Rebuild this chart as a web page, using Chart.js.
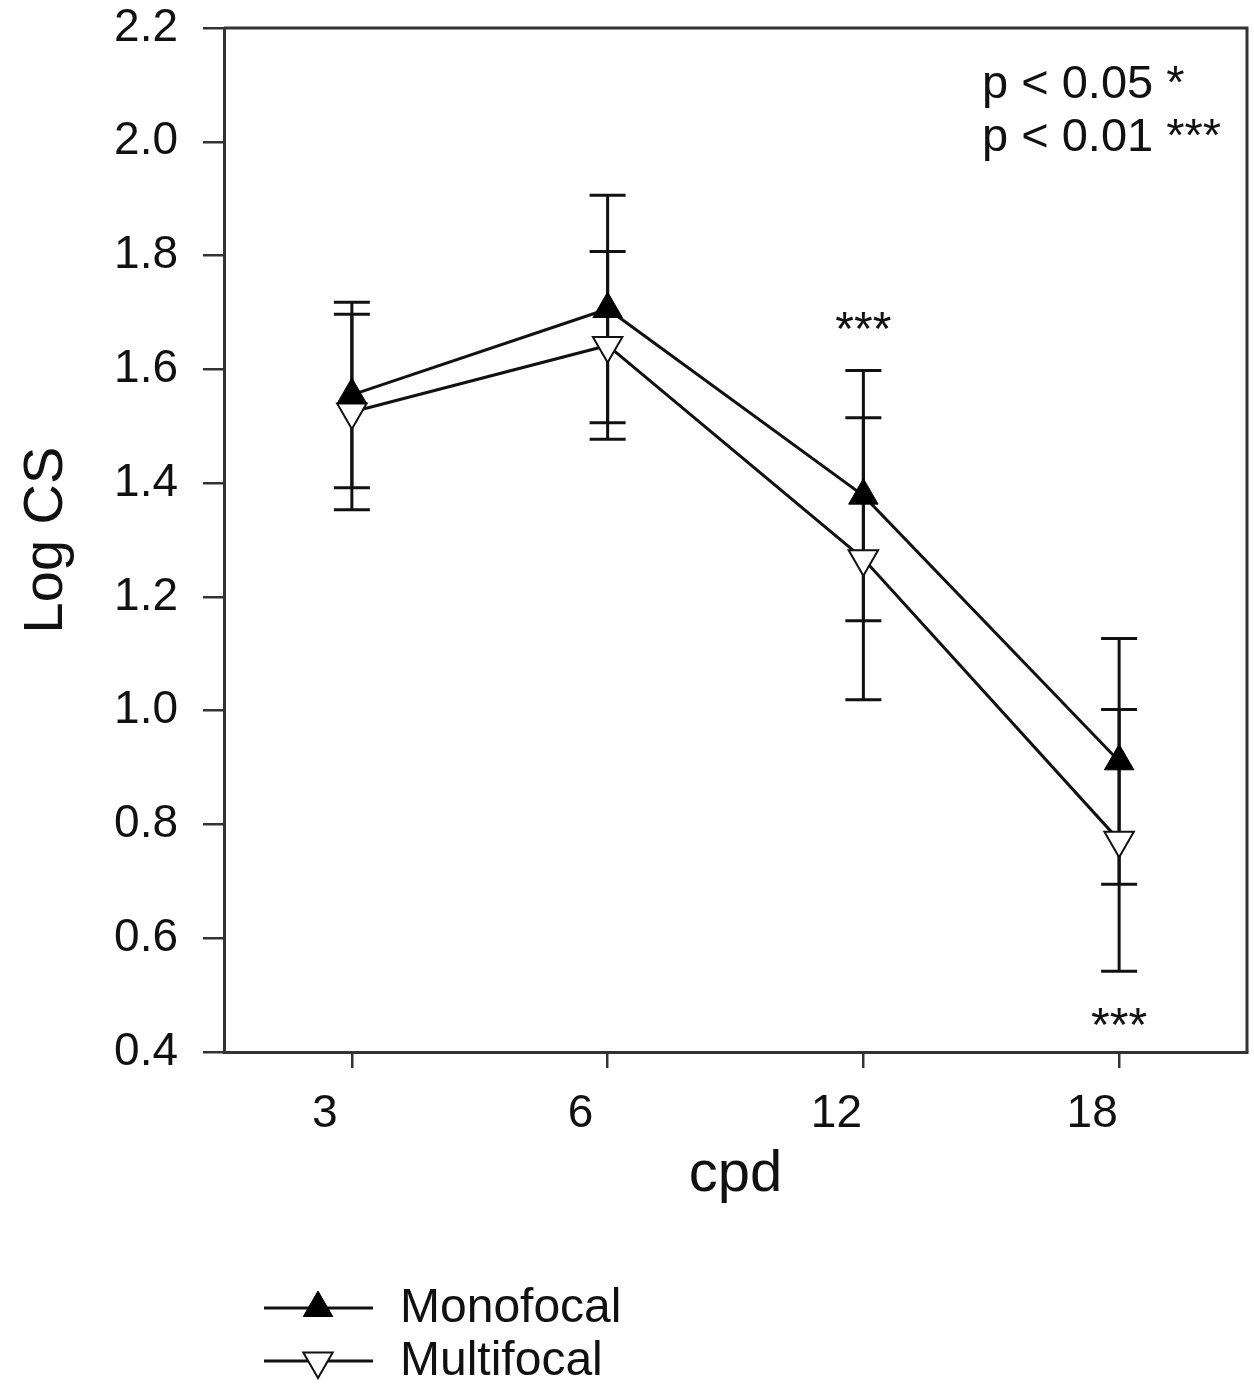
<!DOCTYPE html>
<html><head><meta charset="utf-8">
<script src="https://cdn.jsdelivr.net/npm/chart.js@4"></script>
<style>html,body{margin:0;padding:0;background:#fff}#wrap{width:1254px;height:1389px}</style>
</head><body><div id="wrap"><canvas id="c" width="1254" height="1389"></canvas></div>
<script>
const categories = ['3', '6', '12', '18'];
const monofocal = [1.555, 1.706, 1.378, 0.911];
const monofocalErr = [0.163, 0.200, 0.220, 0.216];
const multifocal = [1.525, 1.642, 1.267, 0.772];
const multifocalErr = [0.172, 0.165, 0.248, 0.230];
const yTickValues = [0.4, 0.6, 0.8, 1.0, 1.2, 1.4, 1.6, 1.8, 2.0, 2.2];
const sigCategories = ['12', '18'];
const sigValues = [1.69, 0.467];
const sigTexts = ['***', '***'];
const pNotes = ['p < 0.05 *', 'p < 0.01 ***'];
const seriesNames = ['Monofocal', 'Multifocal'];

const FONT = '"Liberation Sans", Arial, sans-serif';
const INK = '#111';

const errorBars = {
  id: 'errorBars',
  beforeDatasetsDraw(chart) {
    const {ctx, scales: {x, y}} = chart;
    const errs = [monofocalErr, multifocalErr];
    ctx.save();
    ctx.strokeStyle = INK;
    ctx.lineWidth = 3;
    chart.data.datasets.forEach((ds, di) => {
      ds.data.forEach((v, i) => {
        const px = x.getPixelForValue(i);
        const t = y.getPixelForValue(v + errs[di][i]);
        const b = y.getPixelForValue(v - errs[di][i]);
        ctx.beginPath();
        ctx.moveTo(px, t); ctx.lineTo(px, b);
        ctx.moveTo(px - 18, t); ctx.lineTo(px + 18, t);
        ctx.moveTo(px - 18, b); ctx.lineTo(px + 18, b);
        ctx.stroke();
      });
    });
    ctx.restore();
  }
};

const extras = {
  id: 'extras',
  afterDraw(chart) {
    const {ctx, chartArea: a, scales: {x, y}} = chart;
    ctx.save();
    ctx.strokeStyle = '#333';
    ctx.lineWidth = 3;
    ctx.beginPath();
    ctx.moveTo(a.left, a.top); ctx.lineTo(a.right, a.top); ctx.lineTo(a.right, a.bottom);
    ctx.stroke();
    ctx.fillStyle = INK;
    ctx.font = '48px ' + FONT;
    ctx.textAlign = 'center';
    ctx.textBaseline = 'alphabetic';
    sigCategories.forEach((c, k) => {
      const px = x.getPixelForValue(categories.indexOf(c));
      const py = y.getPixelForValue(sigValues[k]);
      ctx.fillText(sigTexts[k], px, py + 27);
    });
    ctx.font = '47px ' + FONT;
    ctx.textAlign = 'left';
    ctx.textBaseline = 'middle';
    pNotes.forEach((t, k) => ctx.fillText(t, a.left + 758, a.top + 57 + k * 53));
    const rows = [1308, 1361];
    chart.data.datasets.forEach((ds, k) => {
      const ly = rows[k];
      ctx.strokeStyle = INK;
      ctx.lineWidth = 3;
      ctx.beginPath(); ctx.moveTo(264, ly); ctx.lineTo(373, ly); ctx.stroke();
      ctx.fillStyle = ds.pointBackgroundColor;
      ctx.strokeStyle = ds.pointBorderColor;
      ctx.lineWidth = ds.pointBorderWidth;
      Chart.helpers.drawPoint(ctx, {pointStyle: 'triangle', radius: ds.pointRadius, rotation: ds.pointRotation, borderWidth: ds.pointBorderWidth}, 318, ly);
      ctx.fillStyle = INK;
      ctx.font = '48px ' + FONT;
      ctx.textAlign = 'left';
      ctx.textBaseline = 'middle';
      ctx.fillText(seriesNames[k], 400, ly + 1);
    });
    ctx.restore();
  }
};

new Chart(document.getElementById('c'), {
  type: 'line',
  data: {
    labels: categories,
    datasets: [
      {label: seriesNames[0], data: monofocal, borderColor: INK, borderWidth: 3, tension: 0,
       pointStyle: 'triangle', pointRadius: 17, pointRotation: 0, pointBackgroundColor: '#000', pointBorderColor: '#000', pointBorderWidth: 1},
      {label: seriesNames[1], data: multifocal, borderColor: INK, borderWidth: 3, tension: 0,
       pointStyle: 'triangle', pointRadius: 17, pointRotation: 180, pointBackgroundColor: '#fff', pointBorderColor: INK, pointBorderWidth: 2}
    ]
  },
  options: {
    responsive: false,
    animation: false,
    devicePixelRatio: 1,
    layout: {autoPadding: false, padding: {top: 28, right: 7, left: 0, bottom: 0}},
    plugins: {legend: {display: false}, tooltip: {enabled: false}},
    scales: {
      x: {
        type: 'category',
        offset: true,
        afterFit(s) { s.height = 337; s.paddingLeft = 0; s.paddingRight = 0; },
        grid: {display: true, drawOnChartArea: false, drawTicks: true, tickLength: 16, tickColor: '#333', lineWidth: 2.5, offset: false},
        border: {display: true, color: '#333', width: 3},
        ticks: {color: INK, font: {family: FONT, size: 46}, padding: 19, labelOffset: -27, maxRotation: 0},
        title: {display: true, text: 'cpd', color: INK, font: {family: FONT, size: 58}, padding: {top: 0, bottom: 179}}
      },
      y: {
        type: 'linear',
        min: 0.4, max: 2.2,
        afterFit(s) { s.width = 224; s.paddingTop = 0; s.paddingBottom = 0; },
        afterBuildTicks(s) { s.ticks = yTickValues.map(v => ({value: v})); },
        grid: {display: true, drawOnChartArea: false, drawTicks: true, tickLength: 21, tickColor: '#333', lineWidth: 2.5},
        border: {display: true, color: '#333', width: 3},
        ticks: {color: INK, font: {family: FONT, size: 46}, padding: 25, callback: v => Number(v).toFixed(1)},
        title: {display: true, text: 'Log CS', color: INK, font: {family: FONT, size: 56}, padding: {top: 13, bottom: 0}}
      }
    }
  },
  plugins: [errorBars, extras]
});
</script>
</body></html>
